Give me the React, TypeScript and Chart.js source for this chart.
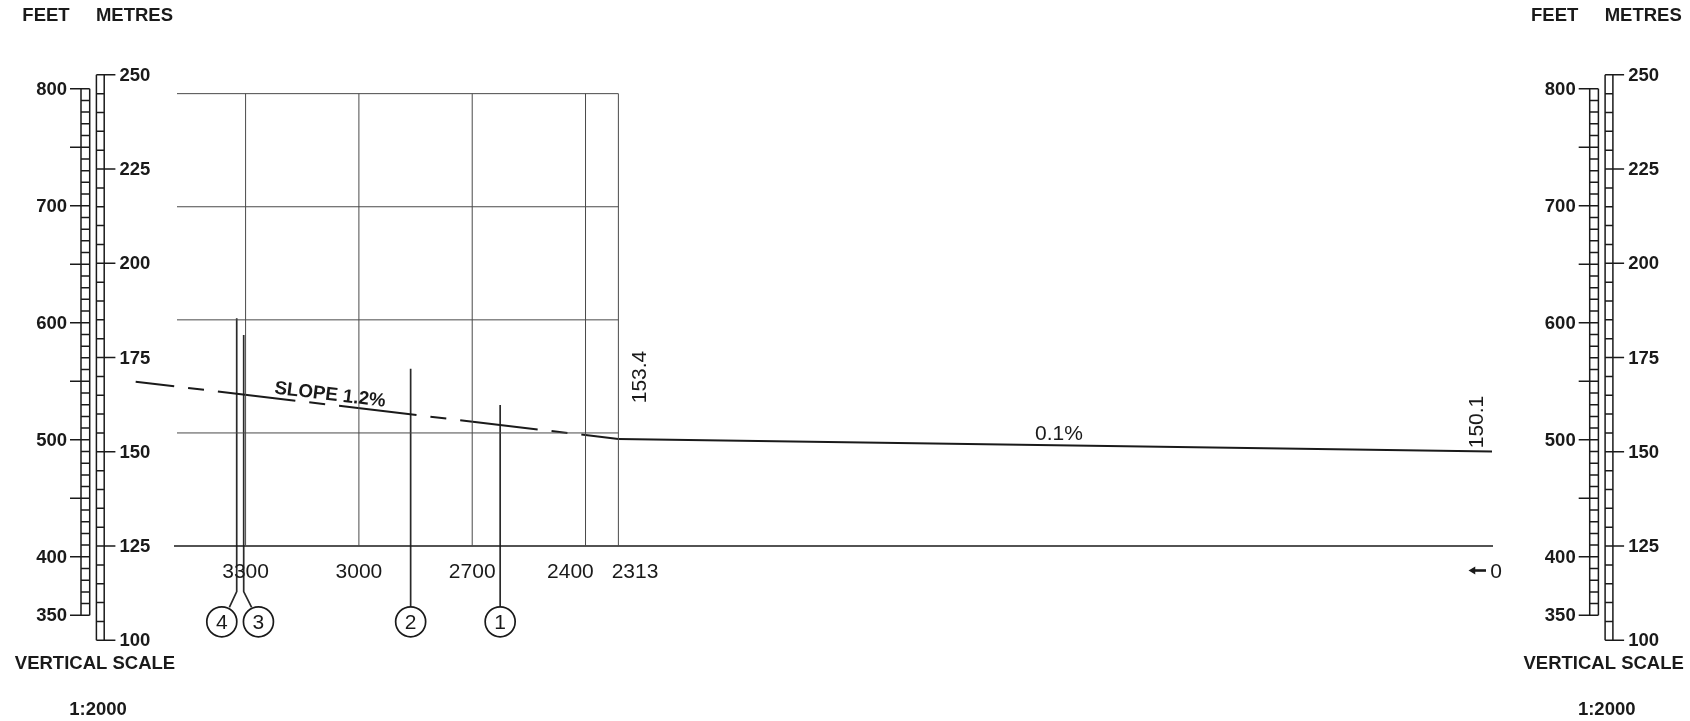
import React, { useEffect, useRef } from "react";
import { Chart, registerables } from "chart.js";

Chart.register(...registerables);

// ---------- data ----------
const feetRungs = [350, 360, 370, 380, 390, 400, 410, 420, 430, 440, 450, 460, 470, 480, 490, 500, 510, 520, 530, 540, 550, 560, 570, 580, 590, 600, 610, 620, 630, 640, 650, 660, 670, 680, 690, 700, 710, 720, 730, 740, 750, 760, 770, 780, 790, 800];
const feetLongTicks = [350, 400, 450, 500, 550, 600, 650, 700, 750, 800];
const feetLabels = [350, 400, 500, 600, 700, 800];
const metreRungs = [100, 105, 110, 115, 120, 125, 130, 135, 140, 145, 150, 155, 160, 165, 170, 175, 180, 185, 190, 195, 200, 205, 210, 215, 220, 225, 230, 235, 240, 245, 250];
const metreLabels = [100, 125, 150, 175, 200, 225, 250];

const gridElevations = [155, 185, 215, 245];
const baseElevation = 125;
const gridChainages = [3300, 3000, 2700, 2400, 2313];
const chainageTickLabels = ["3300", "3000", "2700", "2400", "2313"];
const chainageLabelAnchors = [3300, 3000, 2700, 2440, 2269];

const gradeChainage = [0, 2313];
const gradeElevation = [150.1, 153.4];
const slopeChainage = [2313, 3591];
const slopeElevation = [153.4, 168.6];

const markIds = ["1", "2", "3", "4"];
const markChainage = [2626, 2863, 3305, 3323.5];
const markTop = [162.4, 172, 181, 185.4];
const markBottom = [104.9, 104.9, 112.9, 112.9];
const leaderEndChainage = [2626, 2863, 3284, 3343];
const leaderEndElevation = [104.9, 104.9, 108.75, 108.75];
const circleChainage = [2626, 2863, 3266, 3363];
const circleElevation = 104.9;

// ---------- layout (pixels of the 1690x721 page) ----------
const W = 1690;
const H = 721;
const PX_PER_CHAIN = 0.3777;
const CHAIN0_X = 1492;
const PX_PER_M = 3.77;
const M100_Y = 640.3;
const PX_PER_FT = 1.1702;
const FT400_Y = 556.8;
const GRID_LEFT_X = 177;
const BASE_LEFT_X = 174;
const BASE_RIGHT_X = 1493;
const scalesAt = [0, 1508.7];
const TEXT_DY = 1;

const INK = "#1a1a1a";
const GRID = "#4a4a4a";
const SANS = '"Liberation Sans", Arial, sans-serif';

const xcOf = (px: number) => (CHAIN0_X - px) / PX_PER_CHAIN;
const NaNPt = { x: NaN, y: NaN };

type Pt = { x: number; y: number };
const segs = (list: [number, number, number, number][]): Pt[] => {
  const out: Pt[] = [];
  list.forEach(([x1, y1, x2, y2]) => {
    out.push({ x: x1, y: y1 }, { x: x2, y: y2 }, NaNPt);
  });
  return out;
};

const line = (
  data: Pt[],
  xAxisID: string,
  yAxisID: string,
  color: string,
  width: number,
  extra: object = {}
) => ({
  type: "line" as const,
  data,
  xAxisID,
  yAxisID,
  borderColor: color,
  borderWidth: width,
  pointRadius: 0,
  fill: false,
  tension: 0,
  spanGaps: false,
  borderCapStyle: "butt" as const,
  ...extra,
});

type Txt = {
  text: string;
  x: number;
  y: number;
  xAxis: string;
  yAxis: string;
  font: string;
  align?: CanvasTextAlign;
  rot?: number;
};

const BOLD = `bold 18.5px ${SANS}`;
const REG = `21px ${SANS}`;

const texts: Txt[] = [];
scalesAt.forEach((dx) => {
  feetLabels.forEach((v) =>
    texts.push({ text: String(v), x: 67 + dx, y: v, xAxis: "xp", yAxis: "yf", font: BOLD, align: "right" })
  );
  metreLabels.forEach((v) =>
    texts.push({ text: String(v), x: 119.5 + dx, y: v, xAxis: "xp", yAxis: "ym", font: BOLD, align: "left" })
  );
  texts.push({ text: "FEET", x: 46 + dx, y: 15, xAxis: "xp", yAxis: "yp", font: BOLD });
  texts.push({ text: "METRES", x: 134.5 + dx, y: 15, xAxis: "xp", yAxis: "yp", font: BOLD });
  texts.push({ text: "VERTICAL SCALE", x: 95 + dx, y: 663, xAxis: "xp", yAxis: "yp", font: BOLD });
  texts.push({ text: "1:2000", x: 98 + dx, y: 709, xAxis: "xp", yAxis: "yp", font: BOLD });
});
chainageTickLabels.forEach((t, i) =>
  texts.push({ text: t, x: chainageLabelAnchors[i], y: 571, xAxis: "xc", yAxis: "yp", font: REG })
);
texts.push({ text: "0", x: 1496, y: 571, xAxis: "xp", yAxis: "yp", font: REG });
markIds.forEach((t, i) =>
  texts.push({ text: t, x: circleChainage[i], y: circleElevation, xAxis: "xc", yAxis: "ym", font: REG })
);
texts.push({ text: "SLOPE 1.2%", x: 330, y: 395, xAxis: "xp", yAxis: "yp", font: `bold 18.8px ${SANS}`, rot: 0.119 });
texts.push({ text: "0.1%", x: 1059, y: 433.5, xAxis: "xp", yAxis: "yp", font: REG });
texts.push({ text: "153.4", x: 640.5, y: 377, xAxis: "xp", yAxis: "yp", font: REG, rot: -Math.PI / 2 });
texts.push({ text: "150.1", x: 1477, y: 422, xAxis: "xp", yAxis: "yp", font: REG, rot: -Math.PI / 2 });

const labelPlugin = {
  id: "textLabels",
  afterDatasetsDraw(chart: any) {
    const { ctx, scales } = chart;
    ctx.save();
    ctx.fillStyle = INK;
    ctx.textBaseline = "middle";
    texts.forEach((t) => {
      const px = scales[t.xAxis].getPixelForValue(t.x);
      const py = scales[t.yAxis].getPixelForValue(t.y);
      ctx.save();
      ctx.translate(px, py + (t.rot ? 0 : TEXT_DY));
      if (t.rot) ctx.rotate(t.rot);
      ctx.font = t.font;
      ctx.textAlign = t.align ?? "center";
      ctx.fillText(t.text, 0, 0);
      ctx.restore();
    });
    ctx.restore();
  },
};

export default function App() {
  const ref = useRef<HTMLCanvasElement>(null);

  useEffect(() => {
    document.body.style.margin = "0";
    const datasets: any[] = [];

    // grid
    const gridLeft = xcOf(GRID_LEFT_X);
    datasets.push(
      line(
        segs(gridElevations.map((e) => [gridLeft, e, gridChainages[4], e])),
        "xc",
        "ym",
        GRID,
        1
      )
    );
    datasets.push(
      line(
        segs(gridChainages.map((c) => [c, baseElevation, c, gridElevations[3]])),
        "xc",
        "ym",
        GRID,
        1
      )
    );
    datasets.push(
      line(
        segs([[xcOf(BASE_LEFT_X), baseElevation, xcOf(BASE_RIGHT_X), baseElevation]]),
        "xc",
        "ym",
        INK,
        1.4
      )
    );

    // profile
    datasets.push(
      line(
        gradeChainage.map((x, i) => ({ x, y: gradeElevation[i] })),
        "xc",
        "ym",
        INK,
        2
      )
    );
    datasets.push(
      line(
        slopeChainage.map((x, i) => ({ x, y: slopeElevation[i] })),
        "xc",
        "ym",
        INK,
        2,
        { borderDash: [78, 14, 16, 14], borderDashOffset: 40.7 }
      )
    );

    // marks and leaders
    markChainage.forEach((c, i) => {
      const pts: Pt[] = [
        { x: c, y: markTop[i] },
        { x: c, y: markBottom[i] },
      ];
      if (leaderEndChainage[i] !== c) pts.push({ x: leaderEndChainage[i], y: leaderEndElevation[i] });
      datasets.push(line(pts, "xc", "ym", "#2a2a2a", 1.7));
    });

    // circles
    datasets.push({
      type: "scatter",
      order: -1,
      data: circleChainage.map((x) => ({ x, y: circleElevation })),
      xAxisID: "xc",
      yAxisID: "ym",
      pointStyle: "circle",
      pointRadius: 15,
      pointBackgroundColor: "#ffffff",
      pointBorderColor: INK,
      pointBorderWidth: 1.7,
    });

    // vertical scale ladders
    scalesAt.forEach((dx) => {
      const fl = 81 + dx;
      const fr = 89.7 + dx;
      const ml = 96.4 + dx;
      const mr = 104.2 + dx;
      datasets.push(
        line(
          segs([
            [fl, feetRungs[0], fl, feetRungs[feetRungs.length - 1]],
            [fr, feetRungs[0], fr, feetRungs[feetRungs.length - 1]],
            ...feetRungs.map((v) => [fl, v, fr, v] as [number, number, number, number]),
            ...feetLongTicks.map((v) => [70 + dx, v, fl, v] as [number, number, number, number]),
          ]),
          "xp",
          "yf",
          INK,
          1.5
        )
      );
      datasets.push(
        line(
          segs([
            [ml, metreRungs[0], ml, metreRungs[metreRungs.length - 1]],
            [mr, metreRungs[0], mr, metreRungs[metreRungs.length - 1]],
            ...metreRungs.map((v) => [ml, v, mr, v] as [number, number, number, number]),
            ...metreLabels.map((v) => [mr, v, 115.4 + dx, v] as [number, number, number, number]),
          ]),
          "xp",
          "ym",
          INK,
          1.5
        )
      );
    });

    // direction arrow
    datasets.push(
      line(
        [
          { x: 1486, y: 570.5 },
          { x: 1474, y: 570.5 },
        ],
        "xp",
        "yp",
        INK,
        2.6
      )
    );
    datasets.push({
      type: "scatter",
      data: [{ x: 1473, y: 570.5 }],
      xAxisID: "xp",
      yAxisID: "yp",
      pointStyle: "triangle",
      rotation: -90,
      pointRadius: 4.5,
      pointBackgroundColor: INK,
      pointBorderColor: INK,
      pointBorderWidth: 0,
    });

    const hidden = { display: false, grid: { display: false } };
    const chart = new Chart(ref.current!, {
      type: "scatter",
      data: { datasets },
      plugins: [labelPlugin],
      options: {
        animation: false,
        responsive: false,
        devicePixelRatio: 1,
        layout: { padding: 0, autoPadding: false },
        plugins: { legend: { display: false }, tooltip: { enabled: false }, title: { display: false } },
        events: [],
        scales: {
          xc: { ...hidden, type: "linear", axis: "x", reverse: true, min: (CHAIN0_X - W) / PX_PER_CHAIN, max: CHAIN0_X / PX_PER_CHAIN },
          xp: { ...hidden, type: "linear", axis: "x", min: 0, max: W },
          ym: { ...hidden, type: "linear", axis: "y", min: 100 - (H - M100_Y) / PX_PER_M, max: 100 + M100_Y / PX_PER_M },
          yf: { ...hidden, type: "linear", axis: "y", min: 400 - (H - FT400_Y) / PX_PER_FT, max: 400 + FT400_Y / PX_PER_FT },
          yp: { ...hidden, type: "linear", axis: "y", reverse: true, min: 0, max: H },
        },
      } as any,
    });
    return () => chart.destroy();
  }, []);

  return (
    <div style={{ width: W, height: H, background: "#fff" }}>
      <canvas ref={ref} width={W} height={H} style={{ display: "block", width: W, height: H }} />
    </div>
  );
}
